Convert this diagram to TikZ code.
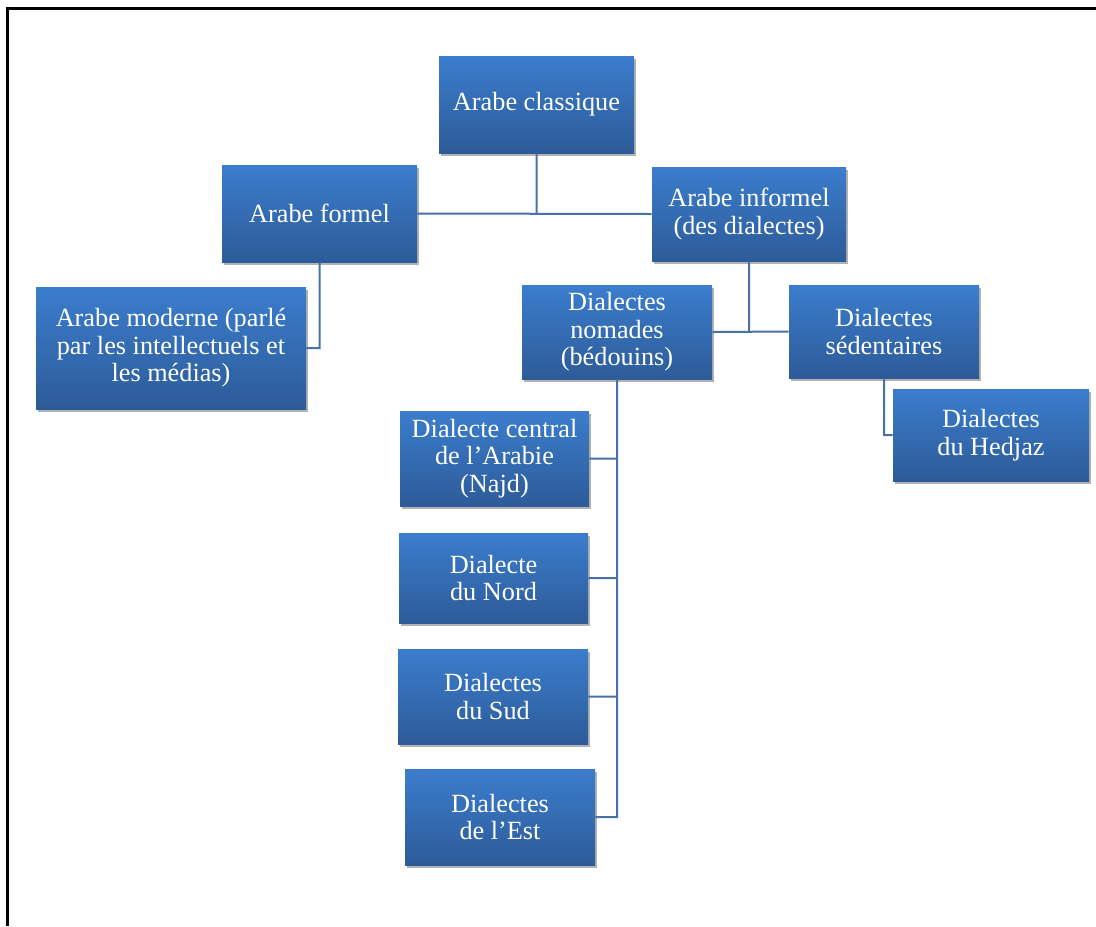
\documentclass[tikz,border=0pt]{standalone}
\usepackage{fontspec}
\setmainfont{Liberation Serif}
\usepackage{tikz}
\usepackage{xcolor}
\usetikzlibrary{
    shadows,
    positioning
}
\definecolor{boxtop}{RGB}{59,125,205}
\definecolor{boxbot}{RGB}{45,91,152}
\definecolor{linkblue}{RGB}{74,112,168}
\tikzset{
    box/.style={rectangle, inner sep=0pt, align=center, text=white,
        top color=boxtop, bottom color=boxbot,
        font=\fontsize{19.7}{20.6}\selectfont,
        drop shadow={shadow xshift=1.2pt, shadow yshift=-2.2pt, fill=black, opacity=.3}},
    link/.style={draw=linkblue, line width=1.5pt}
}

\begin{document}
\begin{tikzpicture}[x=0.75pt, y=-0.75pt]
    \useasboundingbox (0,0) rectangle (1096,926);
    \draw[line width=2.25pt] (1096,8) -- (7.5,8) -- (7.5,926);

    \node[box, minimum width=146.25pt, minimum height=72.75pt] (classique) at (536.5,104.5) {Arabe classique};
    \node[box, minimum width=146.25pt, minimum height=72.75pt] (formel) at (319.5,213.5) {Arabe formel};
    \node[box, minimum width=145.5pt, minimum height=70.5pt] (informel) at (749,214) {Arabe informel\\(des dialectes)};
    \node[box, minimum width=202.5pt, minimum height=91.5pt] (moderne) at (171,348) {Arabe moderne (parlé\\par les intellectuels et\\les médias)};
    \node[box, minimum width=142.5pt, minimum height=70.5pt] (nomades) at (617,332) {Dialectes\\nomades\\(bédouins)};
    \node[box, minimum width=142.5pt, minimum height=69.75pt] (sedentaires) at (884,331.5) {Dialectes\\sédentaires};
    \node[box, minimum width=147pt, minimum height=69pt] (hedjaz) at (991,435) {Dialectes\\du Hedjaz};
    \node[box, minimum width=141.75pt, minimum height=71.25pt] (central) at (494.5,458.5) {Dialecte central\\de l’Arabie\\(Najd)};
    \node[box, minimum width=141.75pt, minimum height=67.5pt] (nord) at (493.5,578) {Dialecte\\du Nord};
    \node[box, minimum width=142.5pt, minimum height=71.25pt] (sud) at (493,696.5) {Dialectes\\du Sud};
    \node[box, minimum width=142.5pt, minimum height=72pt] (est) at (500,817) {Dialectes\\de l’Est};

    \draw[link]
    (formel.east) -- (informel.west)
    (classique.south) -- (classique.south |- formel.east)
    (formel.south) |- (moderne.east)
    (nomades.east) -- (sedentaires.west)
    (informel.south) -- (informel.south |- nomades.east)
    (sedentaires.south) |- (hedjaz.west)
    (nomades.south) |- (central.east)
    (nomades.south) |- (nord.east)
    (nomades.south) |- (sud.east)
    (nomades.south) |- (est.east);
\end{tikzpicture}
\end{document}
